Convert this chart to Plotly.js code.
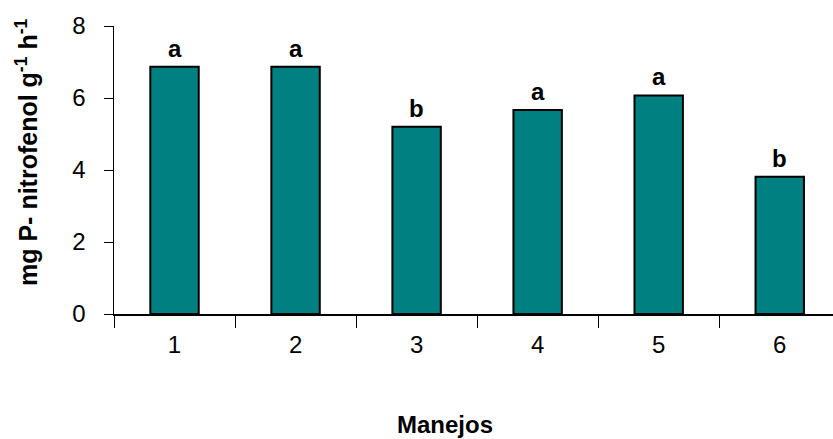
<!DOCTYPE html>
<html>
<head>
<meta charset="utf-8">
<script src="https://cdn.plot.ly/plotly-3.0.1.min.js"></script>
<style>html,body{margin:0;padding:0;background:#fff;}#chart{width:833px;height:439px;}</style>
</head>
<body>
<div id="chart"></div>
<script>
const categories = ['1', '2', '3', '4', '5', '6'];
const values = [6.87, 6.87, 5.2, 5.67, 6.07, 3.81];
const letters = ['a', 'a', 'b', 'a', 'a', 'b'];
const yTickVals = [0, 2, 4, 6, 8];
const yTitle = 'mg P- nitrofenol g<sup>-1</sup> h<sup>-1</sup>';
const xTitle = 'Manejos';

const FONT = 'Liberation Sans, Arial, sans-serif';

const trace = {
  type: 'bar',
  x: categories,
  y: values,
  width: 0.4,
  marker: {color: '#008080', line: {color: '#000000', width: 2}},
  hoverinfo: 'skip'
};

const annotations = categories.map((c, i) => ({
  x: i, y: values[i], xref: 'x', yref: 'y',
  text: letters[i], showarrow: false,
  xanchor: 'center', yanchor: 'bottom', yshift: 3,
  font: {family: FONT, size: 24, color: '#000', weight: 'bold'}
}));
annotations.push({
  xref: 'paper', yref: 'paper', x: -0.122, y: 0.56,
  text: yTitle, textangle: -90, showarrow: false,
  xanchor: 'center', yanchor: 'middle',
  font: {family: FONT, size: 25, color: '#000', weight: 'bold'}
});
annotations.push({
  xref: 'paper', yref: 'paper', x: 0.46, y: -0.382,
  text: xTitle, showarrow: false,
  xanchor: 'center', yanchor: 'middle',
  font: {family: FONT, size: 24, color: '#000', weight: 'bold'}
});

const layout = {
  width: 833, height: 439,
  margin: {l: 114, r: 0, t: 26, b: 125, pad: 0},
  paper_bgcolor: '#fff', plot_bgcolor: '#fff',
  showlegend: false,
  font: {family: FONT, color: '#000'},
  xaxis: {
    type: 'category', range: [-0.5, 5.44],
    tickson: 'boundaries', ticks: 'outside', ticklen: 12, tickwidth: 1, tickcolor: '#000',
    showline: true, linecolor: '#000', linewidth: 1.5,
    showgrid: false, zeroline: false,
    tickfont: {family: FONT, size: 24, color: '#000'},
    ticklabelstandoff: 9
  },
  yaxis: {
    range: [0, 8], tickvals: yTickVals,
    ticks: 'outside', ticklen: 9, tickwidth: 1, tickcolor: '#000',
    showline: true, linecolor: '#000', linewidth: 1.5,
    showgrid: false, zeroline: false,
    tickfont: {family: FONT, size: 24, color: '#000'},
    ticklabelstandoff: 13
  },
  annotations: annotations
};

Plotly.newPlot('chart', [trace], layout, {displayModeBar: false, staticPlot: true});
</script>
</body>
</html>
